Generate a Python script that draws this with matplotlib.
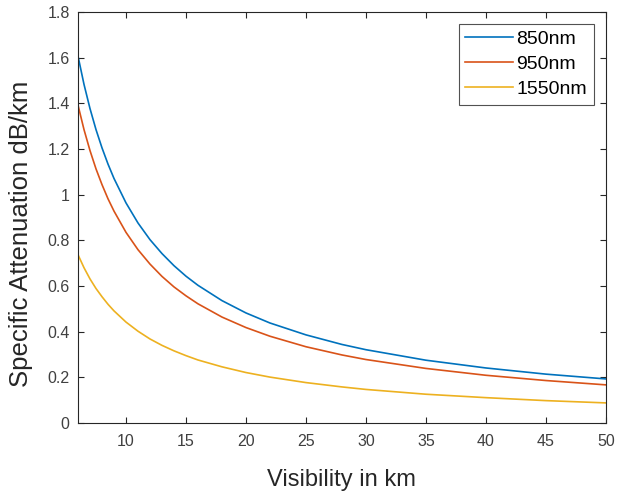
import matplotlib
matplotlib.use("Agg")
import matplotlib.pyplot as plt

# ── Data ───────────────────────────────────────────────────────────────────
visibility = [6, 6.5, 7, 7.5, 8, 8.5, 9, 10, 11, 12, 13, 14, 15, 16, 18, 20,
              22, 25, 28, 30, 35, 40, 45, 50]
att_850 = [1.607, 1.483, 1.377, 1.285, 1.205, 1.134, 1.071, 0.964, 0.876,
           0.803, 0.742, 0.689, 0.643, 0.603, 0.536, 0.482, 0.438, 0.386,
           0.344, 0.321, 0.275, 0.241, 0.214, 0.193]
att_950 = [1.392, 1.285, 1.193, 1.113, 1.044, 0.982, 0.928, 0.835, 0.759,
           0.696, 0.642, 0.596, 0.557, 0.522, 0.464, 0.418, 0.380, 0.334,
           0.298, 0.278, 0.239, 0.209, 0.186, 0.167]
att_1550 = [0.737, 0.680, 0.631, 0.589, 0.553, 0.520, 0.491, 0.442, 0.402,
            0.368, 0.340, 0.316, 0.295, 0.276, 0.246, 0.221, 0.201, 0.177,
            0.158, 0.147, 0.126, 0.111, 0.098, 0.088]
labels = ["850nm", "950nm", "1550nm"]
colors = ["#0072BD", "#D95319", "#EDB120"]
xticks = [10, 15, 20, 25, 30, 35, 40, 45, 50]
yticks = [0, 0.2, 0.4, 0.6, 0.8, 1, 1.2, 1.4, 1.6, 1.8]
ytick_labels = ["0", "0.2", "0.4", "0.6", "0.8", "1", "1.2", "1.4", "1.6", "1.8"]

plt.rcParams["font.family"] = ["Liberation Sans", "DejaVu Sans"]

fig = plt.figure(figsize=(6.22, 4.91), dpi=100)
ax = fig.add_axes([0.1254, 0.1385, 0.8486, 0.8371])

for y, lab, c in zip([att_850, att_950, att_1550], labels, colors):
    ax.plot(visibility, y, color=c, lw=1.2, label=lab)

ax.set_xlim(6, 50)
ax.set_ylim(0, 1.8)
ax.set_xticks(xticks)
ax.set_yticks(yticks)
ax.set_yticklabels(ytick_labels)
ax.tick_params(direction="in", top=True, right=True, length=4, width=0.8,
               colors="#262626", labelsize=11.5, labelcolor="#404040", pad=6)
ax.tick_params(axis="x", pad=8)
for s in ax.spines.values():
    s.set_color("#262626")
    s.set_linewidth(0.8)

ax.set_xlabel("Visibility in km", fontsize=17, color="#262626", labelpad=14.5)
ax.set_ylabel("Specific Attenuation dB/km", fontsize=18.5, color="#262626")
ax.yaxis.set_label_coords(-0.085, 0.46)

leg = ax.legend(loc="upper right", fontsize=14, frameon=True, fancybox=False,
                edgecolor="#262626", handlelength=2.45, handletextpad=0.2,
                borderpad=0.33, labelspacing=0.38, borderaxespad=0.63)
leg.get_frame().set_linewidth(0.8)

fig.savefig("out.png", dpi=100)
